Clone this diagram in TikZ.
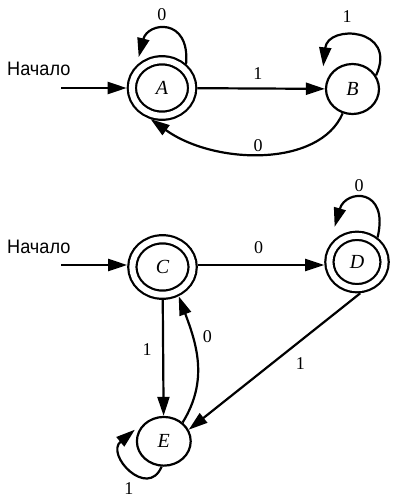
\documentclass[tikz,border=0pt]{standalone}
\usepackage{fontspec}
\setmainfont{Liberation Serif}
\newfontfamily\startfont[FakeStretch=0.93]{Liberation Sans}
\usetikzlibrary{arrows.meta,shapes.geometric}

\begin{document}
\begin{tikzpicture}[x=1pt,y=-1pt,
  state/.style={ellipse, draw, inner sep=0pt, line width=2.2pt,
    font=\fontsize{20}{20}\selectfont\itshape},
  accepting/.style={state, double, double distance=6pt, outer sep=5.2pt},
  edge/.style={draw, line width=2.2pt, -{Triangle[length=19pt,width=12pt]}},
  lbl/.style={inner sep=0pt, font=\fontsize{18}{18}\selectfont},
  starttext/.style={anchor=base west, inner sep=0pt,
    font=\startfont\fontsize{19.5}{19.5}\selectfont},
]
\fill[white] (0,0) rectangle (393,498);
\useasboundingbox (0,0) rectangle (393,498);

% --- first automaton ---
\node[accepting, minimum width=60.3pt, minimum height=55.4pt] (A) at (162,88) {A};
\node[state, minimum width=53pt, minimum height=50pt] (B) at (352.5,89) {B};
\node[starttext] (st1) at (7,75) {Начало};
\coordinate (in1) at (61,88);

\draw[edge] (in1) -- (A);
\draw[edge] (A) -- (B) node[lbl, pos=0.475, yshift=14.5pt] (lab) {1};
\draw[edge] (B.248) .. controls +(-23,54) and +(64,46) .. (A.250)
  node[lbl, pos=0.5, xshift=-4pt, yshift=8.6pt] (lba) {0};
\draw[edge] (A.45) .. controls +(4,-47) and +(9,-35) .. ([shift={(-3,-4)}]A.127)
  node[lbl, pos=0.5, xshift=-5.3pt, yshift=14.8pt] (laa) {0};
\draw[edge] (B.30) .. controls +(22,-47.5) and +(4.6,-42.5) .. ([shift={(-8,-6)}]B.142)
  node[lbl, pos=0.5, xshift=-12.6pt, yshift=20.2pt] (lbb) {1};

% --- second automaton ---
\node[accepting, minimum width=60.3pt, minimum height=55.4pt] (C) at (162.5,267) {C};
\node[accepting, minimum width=55.2pt, minimum height=52.4pt] (D) at (357,262) {D};
\node[state, minimum width=53.8pt, minimum height=48.7pt] (E) at (163.8,441.3) {E};
\node[starttext] (st2) at (7,253) {Начало};
\coordinate (in2) at (61,265);

\draw[edge] (in2) -- (in2 -| C.west);
\draw[edge] (C.east |- in2) -- (in2 -| D.west)
  node[lbl, pos=0.48, yshift=17pt] (lcd) {0};
\draw[edge] (D.50) .. controls +(12,-50) and +(11,-38) .. ([shift={(-6,-8)}]D.121)
  node[lbl, pos=0.5, xshift=-5.6pt, yshift=13.3pt] (ldd) {0};
\draw[edge] (C) -- (E) node[lbl, pos=0.43, xshift=-16pt] (lce) {1};
\draw[edge] (E.45) .. controls +(26,-42) and +(18,48) .. (C.299)
  node[lbl, pos=0.7, xshift=15pt] (lec) {0};
\draw[edge] (D.276) -- (E.25) node[lbl, pos=0.41, xshift=10.4pt, yshift=-14pt] (lde) {1};
\draw[edge] (E.265) .. controls +(-14,33) and +(-30,25) .. ([shift={(-4,0)}]E.155)
  node[lbl, pos=0.5, xshift=-2.8pt, yshift=-18.5pt] (lee) {1};
\end{tikzpicture}
\end{document}
